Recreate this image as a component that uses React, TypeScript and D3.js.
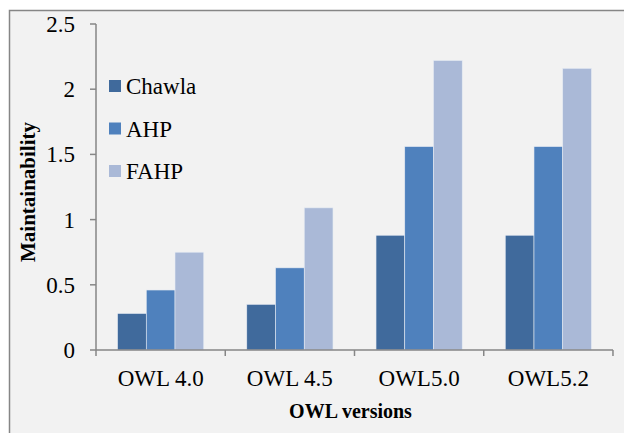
import React, { useRef, useEffect } from 'react';
import * as d3 from 'd3';

const versions = ['OWL 4.0', 'OWL 4.5', 'OWL5.0', 'OWL5.2'];
const seriesNames = ['Chawla', 'AHP', 'FAHP'];
const chawla = [0.28, 0.35, 0.88, 0.88];
const ahp = [0.46, 0.63, 1.56, 1.56];
const fahp = [0.75, 1.09, 2.22, 2.16];
const yTicks = [0, 0.5, 1, 1.5, 2, 2.5];
const colors = ['#406A9C', '#4F81BD', '#AAB9D7'];

const W = 624;
const H = 433;

const App = () => {
    const svgRef = useRef<SVGSVGElement>(null);

    useEffect(() => {
        const svg = d3.select(svgRef.current);
        svg.selectAll('*').remove();

        const font = "'Liberation Serif', 'Times New Roman', Times, serif";
        const axisColor = '#868686';

        // frame
        svg.append('rect').attr('width', W).attr('height', H).attr('fill', '#ffffff');
        svg.append('rect')
            .attr('x', 9.5).attr('y', 10.5)
            .attr('width', W + 10).attr('height', H + 10)
            .attr('fill', '#f2f2f2')
            .attr('stroke', axisColor)
            .attr('stroke-width', 1.5);

        const left = 96, right = 613, top = 24, bottom = 350;

        const x0 = d3.scaleBand()
            .domain(versions)
            .range([left, right])
            .paddingInner(0.333)
            .paddingOuter(0.1667);

        const x1 = d3.scaleBand()
            .domain(seriesNames)
            .range([0, x0.bandwidth()]);

        const y = d3.scaleLinear()
            .domain([0, 2.5])
            .range([bottom, top]);

        const values = [chawla, ahp, fahp];

        // bars
        seriesNames.forEach((name, si) => {
            svg.append('g')
                .selectAll('rect')
                .data(values[si])
                .enter()
                .append('rect')
                .attr('x', (d, i) => (x0(versions[i]) as number) + (x1(name) as number))
                .attr('y', (d) => y(d))
                .attr('width', x1.bandwidth())
                .attr('height', (d) => bottom - y(d))
                .attr('fill', colors[si])
                .attr('stroke', '#e6ebf3')
                .attr('stroke-width', 0.6);
        });

        // y axis
        const yAxis = svg.append('g').attr('transform', `translate(${left},0)`);
        yAxis.append('line')
            .attr('x1', 0).attr('x2', 0)
            .attr('y1', top).attr('y2', bottom + 6)
            .attr('stroke', axisColor).attr('stroke-width', 1.5);
        yAxis.selectAll('.tick')
            .data(yTicks)
            .enter()
            .append('line')
            .attr('x1', -6).attr('x2', 0)
            .attr('y1', (d) => y(d)).attr('y2', (d) => y(d))
            .attr('stroke', axisColor).attr('stroke-width', 1.5);
        yAxis.selectAll('text')
            .data(yTicks)
            .enter()
            .append('text')
            .attr('x', -21)
            .attr('y', (d) => y(d) + 8)
            .attr('text-anchor', 'end')
            .style('font-family', font)
            .style('font-size', '23px')
            .attr('fill', '#000')
            .text((d) => String(d));

        // x axis
        const xAxis = svg.append('g');
        xAxis.append('line')
            .attr('x1', left).attr('x2', right)
            .attr('y1', bottom).attr('y2', bottom)
            .attr('stroke', axisColor).attr('stroke-width', 1.5);
        const step = x0.step();
        const bounds = versions.map((v) => (x0(v) as number) - (step - x0.bandwidth()) / 2 + step);
        xAxis.selectAll('.xtick')
            .data(bounds)
            .enter()
            .append('line')
            .attr('x1', (d) => d).attr('x2', (d) => d)
            .attr('y1', bottom).attr('y2', bottom + 6)
            .attr('stroke', axisColor).attr('stroke-width', 1.5);
        xAxis.selectAll('text')
            .data(versions)
            .enter()
            .append('text')
            .attr('x', (d) => (x0(d) as number) + x0.bandwidth() / 2)
            .attr('y', 386)
            .attr('text-anchor', 'middle')
            .style('font-family', font)
            .style('font-size', '23px')
            .attr('fill', '#000')
            .text((d) => d);

        // axis titles
        svg.append('text')
            .attr('x', (left + right) / 2 - 4)
            .attr('y', 418)
            .attr('text-anchor', 'middle')
            .style('font-family', font)
            .style('font-weight', 'bold')
            .style('font-size', '20px')
            .text('OWL versions');

        svg.append('text')
            .attr('transform', 'translate(35,192) rotate(-90)')
            .attr('text-anchor', 'middle')
            .style('font-family', font)
            .style('font-weight', 'bold')
            .style('font-size', '21px')
            .text('Maintainability');

        // legend
        const legend = svg.append('g')
            .selectAll('g')
            .data(seriesNames)
            .enter()
            .append('g')
            .attr('transform', (d, i) => `translate(109,${86 + i * 42.5})`);
        legend.append('rect')
            .attr('x', 0).attr('y', -6)
            .attr('width', 12).attr('height', 12)
            .attr('fill', (d, i) => colors[i]);
        legend.append('text')
            .attr('x', 17).attr('y', 8)
            .style('font-family', font)
            .style('font-size', '23px')
            .attr('fill', '#000')
            .text((d) => d);
    }, []);

    return (
        <svg ref={svgRef} width={W} height={H}
            style={{ position: 'absolute', left: 0, top: 0, display: 'block' }} />
    );
};

export default App;
